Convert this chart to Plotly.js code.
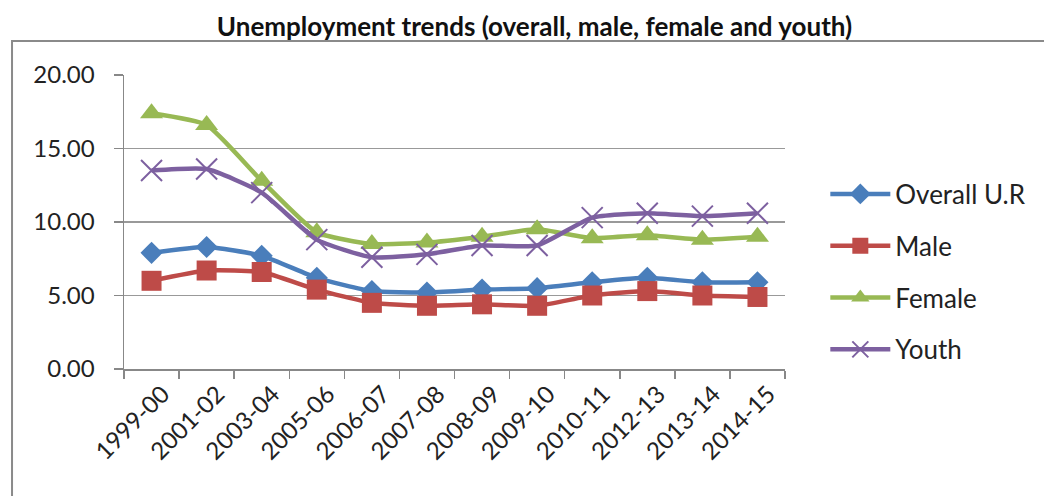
<!DOCTYPE html>
<html>
<head>
<meta charset="utf-8">
<script src="https://cdn.plot.ly/plotly-3.0.1.min.js"></script>
<style>
  html, body { margin: 0; padding: 0; background: #fff; }
  #chart { width: 1044px; height: 496px; }
</style>
</head>
<body>
<div id="chart"></div>
<script>
// Survey years
const years = ["1999-00", "2001-02", "2003-04", "2005-06", "2006-07", "2007-08",
               "2008-09", "2009-10", "2010-11", "2012-13", "2013-14", "2014-15"];

// Unemployment rates (%)
const overall = [7.9, 8.3, 7.7, 6.2, 5.3, 5.2, 5.4, 5.5, 5.9, 6.2, 5.9, 5.9];
const male    = [6.0, 6.7, 6.6, 5.4, 4.5, 4.3, 4.4, 4.3, 5.0, 5.3, 5.0, 4.9];
const female  = [17.4, 16.6, 12.8, 9.3, 8.5, 8.6, 9.0, 9.5, 8.9, 9.1, 8.8, 9.0];
const youth   = [13.5, 13.6, 12.0, 8.8, 7.6, 7.8, 8.4, 8.4, 10.3, 10.6, 10.4, 10.6];

const seriesNames = ["Overall U.R", "Male", "Female", "Youth"];
const yTicks = [0, 5, 10, 15, 20];

const FONT = "Lato, 'Open Sans', sans-serif";

function series(name, values, color, marker) {
  return {
    type: "scatter",
    mode: "lines+markers",
    name: name,
    legendgroup: name,
    x: years,
    y: values,
    line: { color: color, width: 4.5, shape: "spline", smoothing: 0.5 },
    marker: marker,
    cliponaxis: false
  };
}

const traces = [
  series(seriesNames[0], overall, "#4A7EBB",
         { symbol: "diamond", size: 17, color: "#4A7EBB" }),
  series(seriesNames[1], male, "#BE4B48",
         { symbol: "square", size: 20, color: "#BE4B48" }),
  series(seriesNames[2], female, "#98B954",
         { symbol: "triangle-up", size: 20, color: "#98B954" }),
  series(seriesNames[3], youth, "#7D60A0",
         { symbol: "x-thin-open", size: 21, color: "#7D60A0",
           line: { color: "#7D60A0", width: 2 } })
];

const layout = {
  width: 1044,
  height: 496,
  paper_bgcolor: "#fff",
  plot_bgcolor: "#fff",
  margin: { l: 124, r: 259, t: 75, b: 127 },
  font: { family: FONT, size: 24, color: "#222" },
  title: {
    text: "<b>Unemployment trends (overall, male, female and youth)</b>",
    font: { family: FONT, size: 26, color: "#111" },
    x: 0.512, xanchor: "center",
    y: 0.945, yanchor: "middle", yref: "container"
  },
  showlegend: true,
  legend: {
    x: 1.061, xanchor: "left",
    y: 0.675, yanchor: "top",
    font: { family: FONT, size: 26, color: "#222" },
    itemwidth: 60,
    tracegroupgap: 15,
    bgcolor: "rgba(0,0,0,0)"
  },
  xaxis: {
    type: "category",
    range: [-0.5, 11.5],
    tickangle: -45,
    ticks: "outside",
    tickson: "boundaries",
    ticklen: 8,
    tickcolor: "#888",
    tickwidth: 1.5,
    ticklabelshift: 11,
    showgrid: false,
    showline: true,
    linecolor: "#888",
    linewidth: 1.5,
    tickfont: { family: FONT, size: 24, color: "#222" },
    fixedrange: true
  },
  yaxis: {
    range: [0, 20],
    tickvals: yTicks,
    tickformat: ".2f",
    ticks: "outside",
    ticklen: 9,
    tickcolor: "#888",
    tickwidth: 1.5,
    ticklabelstandoff: 14,
    showgrid: true,
    gridcolor: "#999",
    gridwidth: 1.5,
    zeroline: false,
    showline: true,
    linecolor: "#888",
    linewidth: 1.5,
    tickfont: { family: FONT, size: 24, color: "#222" },
    fixedrange: true
  },
  shapes: [
    {
      type: "path",
      xref: "paper", yref: "paper",
      path: "M -0.1694,-0.44 L -0.1694,1.1156 L 1.40,1.1156",
      line: { color: "#8a8a8a", width: 2 }
    }
  ]
};

Plotly.newPlot("chart", traces, layout, { displayModeBar: false, staticPlot: true });
</script>
</body>
</html>
